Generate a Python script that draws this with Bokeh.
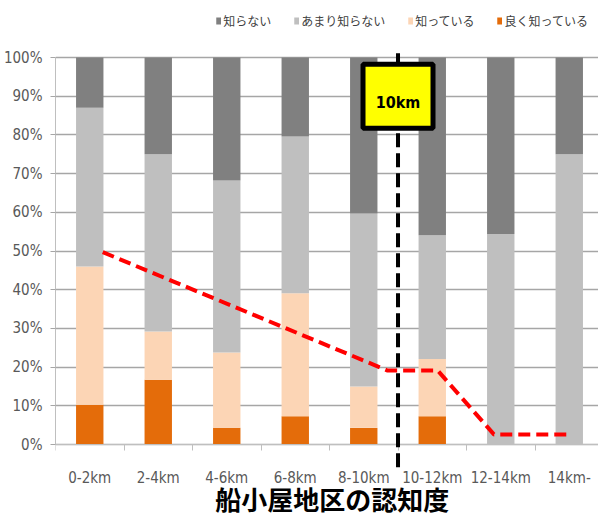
from bokeh.plotting import figure
from bokeh.models import (ColumnDataSource, Range1d, FixedTicker, CustomJSTickFormatter,
                          PrintfTickFormatter, Legend, LegendItem)
from bokeh.core.properties import value
from bokeh.embed import file_html
from bokeh.resources import INLINE

# ---- data ----
categories = ["0-2km", "2-4km", "4-6km", "6-8km", "8-10km", "10-12km", "12-14km", "14km-"]
series_names = ["良く知っている", "知っている", "あまり知らない", "知らない"]  # bottom -> top
well_known = [10.3, 16.7, 4.3, 7.3, 4.3, 7.3, 0.0, 0.0]
known = [35.7, 12.5, 19.5, 31.8, 10.7, 14.8, 0.0, 0.0]
little_known = [41.0, 45.8, 44.4, 40.5, 44.7, 32.0, 54.4, 75.0]
unknown = [13.0, 25.0, 31.8, 20.4, 40.3, 45.9, 45.6, 25.0]
colors = ["#e46c0a", "#fcd5b5", "#bfbfbf", "#808080"]
y_ticks = [0, 10, 20, 30, 40, 50, 60, 70, 80, 90, 100]

# trend line (red dashed), in category units / percent
trend_x = [0.69, 4.85, 5.58, 6.40, 7.47]
trend_y = [49.7, 19.1, 19.1, 2.6, 2.6]

# 10km marker
marker_x = 5.0
marker_y_range = (-5.9, 101.3)
marker_label = "10km"
title_text = "船小屋地区の認知度"

narrow = "'DejaVu Sans Condensed', 'Liberation Sans Narrow', Roboto, sans-serif"
cjk = "Noto Sans CJK JP"

src = ColumnDataSource(dict(
    x=[i + 0.5 for i in range(len(categories))],
    s0=well_known, s1=known, s2=little_known, s3=unknown,
))

p = figure(frame_width=545, frame_height=519,
           x_range=Range1d(0, 7.956), y_range=Range1d(-19.38, 114.73),
           output_backend="svg", toolbar_location=None,
           min_border_left=53, min_border_right=0, min_border_top=0, min_border_bottom=0)
p.outline_line_color = None
p.background_fill_color = "white"
p.xgrid.visible = False
p.ygrid.grid_line_color = "#a6a6a6"
p.ygrid.grid_line_width = 1.5
p.ygrid.bounds = (0, 100)
p.ygrid.ticker = FixedTicker(ticks=y_ticks)

renderers = p.vbar_stack(["s0", "s1", "s2", "s3"], x="x", width=0.4, color=colors,
                         line_color=None, source=src)

p.line(trend_x, trend_y, line_color="#ff0000", line_width=4, line_dash="12 6")

p.segment(x0=[marker_x], y0=[marker_y_range[0]], x1=[marker_x], y1=[marker_y_range[1]],
          line_color="black", line_width=4, line_dash="14 6", level="overlay")

p.rect(x=[marker_x], y=[90.0], width=70, height=64, width_units="screen",
       height_units="screen", fill_color="#ffff00", line_color="black",
       line_width=5, level="overlay")
p.text(x=[marker_x], y=[88.4], text=[marker_label], text_align="center",
       text_baseline="middle", text_font=value(narrow), text_font_size="16px",
       text_font_style="bold", text_color="black", level="overlay")

# title under the chart
p.text(x=[4.04], y=[-13.95], text=[title_text], text_align="center",
       text_baseline="middle", text_font=value(cjk), text_font_size="26px",
       text_font_style="bold", text_color="black")

# y axis
ya = p.yaxis[0]
ya.ticker = FixedTicker(ticks=y_ticks)
ya.bounds = (0, 100)
ya.formatter = PrintfTickFormatter(format="%d%%")
ya.axis_line_color = "#bfbfbf"
ya.major_tick_line_color = "#a6a6a6"
ya.major_tick_out = 5
ya.major_tick_in = 0
ya.minor_tick_line_color = None
ya.major_label_standoff = 8
ya.major_label_text_font = narrow
ya.major_label_text_font_size = "15px"
ya.major_label_text_color = "#595959"

# x axis, placed at y = 0
xa = p.xaxis[0]
xa.fixed_location = 0
xa.ticker = FixedTicker(ticks=[i + 0.5 for i in range(len(categories))],
                        minor_ticks=list(range(len(categories) + 1)))
xa.formatter = CustomJSTickFormatter(args=dict(labels=categories),
                                     code="return labels[Math.floor(tick)]")
xa.axis_line_color = "#bfbfbf"
xa.major_tick_line_color = None
xa.major_tick_out = 0
xa.minor_tick_line_color = "#bfbfbf"
xa.minor_tick_out = 6
xa.minor_tick_in = 0
xa.major_label_standoff = 18
xa.major_label_text_font = narrow
xa.major_label_text_font_size = "15px"
xa.major_label_text_color = "#595959"

items = [LegendItem(label=series_names[i], renderers=[renderers[i]]) for i in [3, 2, 1, 0]]
legend = Legend(items=items, orientation="horizontal", location="top_right",
                glyph_width=6, glyph_height=9, label_standoff=2, spacing=22,
                label_text_font=cjk, label_text_font_size="12px",
                label_text_color="#404040", label_height=14, padding=0, margin=12,
                border_line_color=None, background_fill_alpha=0)
p.add_layout(legend)

open("out.html", "w").write(file_html(p, INLINE))
